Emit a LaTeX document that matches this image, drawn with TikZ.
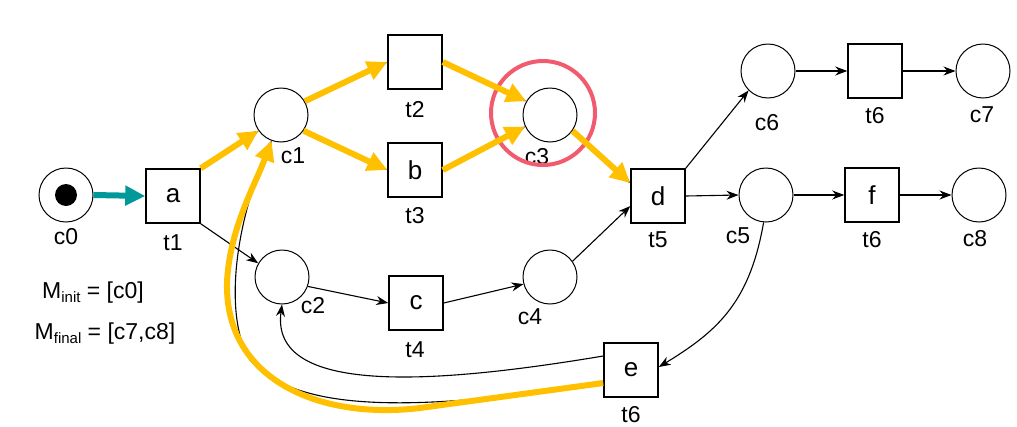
\documentclass[tikz,border=0pt]{standalone}
\usepackage{fontspec}
\setmainfont{Liberation Sans}
\usetikzlibrary{arrows.meta}
\definecolor{gold}{HTML}{FFC000}
\definecolor{tealarr}{HTML}{00999A}
\definecolor{ring}{HTML}{F25A6E}
\newcommand{\lowsub}[1]{\raisebox{-0.3ex}{\fontsize{15}{15}\selectfont #1}}
\begin{document}
\begin{tikzpicture}[x=1pt,y=-1pt,>={Stealth[length=12pt,width=9pt]},
    place/.style={draw,circle,fill=white,minimum size=54pt,inner sep=0pt,line width=1pt},
    trans/.style={draw,fill=white,minimum size=54pt,inner sep=0pt,line width=1.5pt,font=\fontsize{26}{26}\selectfont},
    lab/.style={font=\fontsize{23}{23}\selectfont},
    arc/.style={->,line width=1.1pt},
    fire/.style={gold,line width=6pt,-{Triangle[length=20pt,width=19pt]}}]
\useasboundingbox (0,0) rectangle (1017,426);
% places
\node[place](c0) at (66,195) {};
\fill (c0) circle (11);
\node[place](c1) at (281,115) {};
\node[place](c2) at (282,277) {};
\node[lab](lc3) at (537,157) {c3};
\node[place](c3) at (550,115) {};
\node[place](c4) at (550,277) {};
\node[place](c5) at (766,195) {};
\node[place](c6) at (768,71) {};
\node[place](c7) at (983,71) {};
\node[place](c8) at (979,195) {};
% transitions
\node[trans](t1) at (173,196) {a};
\node[trans](t2) at (415,62) {};
\node[trans](t3) at (415,170) {b};
\node[trans](t4) at (416,303) {c};
\node[trans](t5) at (658,196) {d};
\node[trans](t6a) at (875,71) {};
\node[trans](t6b) at (872,195) {f};
\node[trans](t6c) at (631,370) {e};
% labels
\node[lab] at (66,237) {c0};
\node[lab] at (173,243) {t1};
\node[lab] at (293,156) {c1};
\node[lab] at (415,110) {t2};
\node[lab] at (415,216) {t3};
\node[lab] at (313,306) {c2};
\node[lab] at (415,350) {t4};
\node[lab] at (530,317) {c4};
\node[lab] at (658,240) {t5};
\node[lab] at (738,236) {c5};
\node[lab] at (767,123) {c6};
\node[lab] at (875,116) {t6};
\node[lab] at (982,115) {c7};
\node[lab] at (872,240) {t6};
\node[lab] at (975,239) {c8};
\node[lab] at (631,415) {t6};
\node[lab] at (93,293) {M\lowsub{init} = [c0]};
\node[lab] at (105,334) {M\lowsub{final} = [c7,c8]};
% plain arcs
\draw[arc] (t1.north east)--(c1.-145);
\draw[arc] (c1.30)--(t2.west);
\draw[arc] (c1.-35)--(t3.west);
\draw[arc] (t2.east)--(c3.150);
\draw[arc] (t3.east)--(c3.205);
\draw[arc] (c3.-35)--(t5.155);
\draw[arc] (t1.south east)--(c2.150);
\draw[arc] (c2.-20)--(t4.west);
\draw[arc] (t4.east)--(c4.195);
\draw[arc] (c4.35)--(t5.200);
\draw[arc] (t5.north east)--(c6.225);
\draw[arc] (t5.east)--(c5.west);
\draw[arc] (c6.east)--(t6a.west);
\draw[arc] (t6a.east)--(c7.west);
\draw[arc] (c5.east)--(t6b.west);
\draw[arc] (t6b.east)--(c8.west);
\draw[arc] (c5.-95) .. controls (750,300) and (720,330) .. ([yshift=3pt]t6c.east);
\draw[arc] ([yshift=14pt]t6c.west) .. controls (430,385) and (270,395) .. (c2.south);
\draw[arc] ([yshift=-14pt]t6c.west) .. controls (420,410) and (300,415) .. (250,360)
    .. controls (225,320) and (232,230) .. (c1.-110);
% highlighted firing
\node[draw=ring,circle,minimum size=104pt,line width=4pt](hl) at (543,113) {};
\draw[tealarr,line width=6pt,-{Triangle[length=20pt,width=19pt]}] (c0.east)--(t1.west);
\draw[fire] (t1.north east)--(c1.-145);
\draw[fire] (c1.30)--(t2.west);
\draw[fire] (c1.-35)--(t3.west);
\draw[fire] (t2.east)--(c3.150);
\draw[fire] (t3.east)--(c3.205);
\draw[fire] (c3.-35)--(t5.155);
\draw[fire] ([yshift=-13pt]t6c.west)--(420,408) .. controls (320,420) and (225,380) .. (227,283)
    .. controls (229,230) and (255,185) .. (c1.-110);
\end{tikzpicture}
\end{document}
